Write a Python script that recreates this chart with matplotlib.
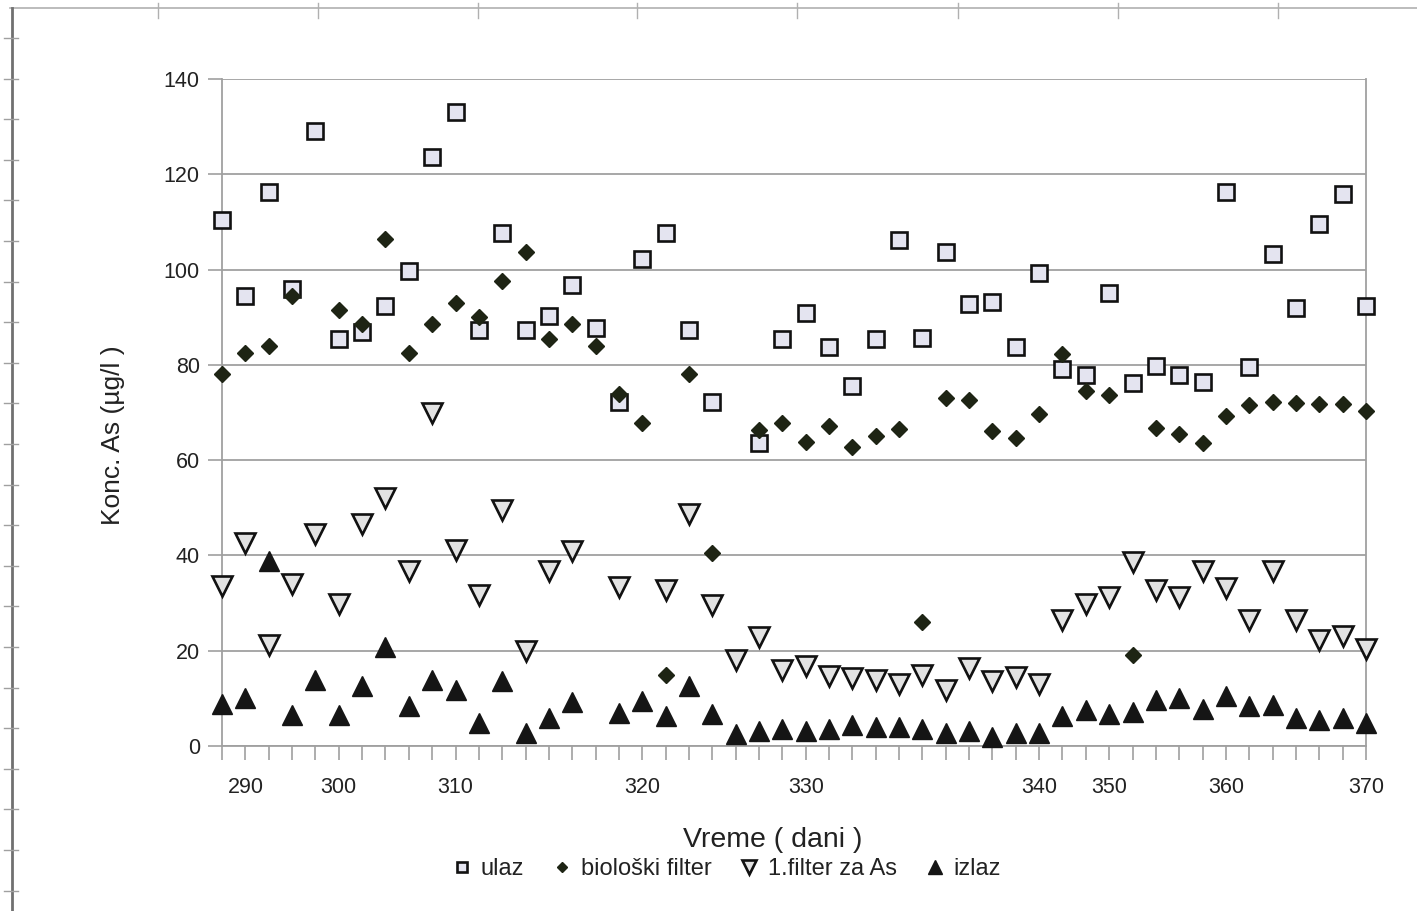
import numpy as np
import matplotlib.pyplot as plt
from matplotlib.lines import Line2D

nan = np.nan

# tick labels of the category axis (index of category, label)
label_pos = [1, 5, 10, 18, 25, 35, 38, 43, 49]
label_txt = ['290', '300', '310', '320', '330', '340', '350', '360', '370']

ulaz = [110.3, 94.4, 116.2, 95.9, 129.0, 85.5, 86.8, 92.3, 99.6, 123.7,
        133.1, 87.3, 107.7, 87.3, 90.3, 96.8, 87.8, 72.1, 102.2, 107.7,
        87.3, 72.1, nan, 63.5, 85.5, 90.9, 83.8, 75.5, 85.5, 106.2,
        85.7, 103.6, 92.7, 93.1, 83.8, 99.2, 79.2, 77.9, 95.1, 76.1,
        79.7, 77.9, 76.3, 116.2, 79.6, 103.2, 91.9, 109.5, 115.9, 92.3]

bio = [78.0, 82.5, 84.0, 94.4, nan, 91.6, 88.5, 106.5, 82.5, 88.5,
       93.0, 90.1, 97.5, 103.6, 85.5, 88.5, 84.0, 73.8, 67.7, 15.0,
       78.1, 40.5, nan, 66.3, 67.9, 63.8, 67.1, 62.8, 65.0, 66.6,
       26.0, 73.1, 72.7, 66.1, 64.7, 69.6, 82.2, 74.5, 73.6, 19.0,
       66.8, 65.4, 63.5, 69.2, 71.5, 72.1, 71.9, 71.7, 71.7, 70.3]

filter1 = [33.5, 42.6, 21.3, 34.0, 44.6, 29.9, 46.7, 52.1, 36.7, 69.8,
           41.2, 31.6, 49.5, 19.9, 36.7, 40.9, nan, 33.4, nan, 32.7,
           48.6, 29.5, 18.1, 22.8, 15.9, 16.7, 14.8, 14.3, 13.9, 13.1,
           15.0, 11.8, 16.4, 13.6, 14.5, 13.1, 26.4, 29.9, 31.3, 38.6,
           32.7, 31.3, 36.8, 33.2, 26.5, 36.8, 26.4, 22.2, 23.0, 20.4]

izlaz = [8.9, 10.1, 38.9, 6.6, 13.9, 6.6, 12.5, 20.8, 8.5, 13.9,
         11.8, 4.8, 13.6, 2.7, 5.9, 9.2, nan, 7.0, 9.4, 6.2,
         12.7, 6.8, 2.6, 3.1, 3.6, 3.1, 3.6, 4.5, 4.0, 4.0,
         3.6, 2.7, 3.1, 1.9, 2.7, 2.7, 6.2, 7.6, 6.8, 7.1,
         9.6, 10.1, 7.8, 10.4, 8.3, 8.7, 5.9, 5.4, 5.9, 4.8]

plt.rcParams['font.family'] = ['Liberation Sans', 'DejaVu Sans']

fig = plt.figure(figsize=(14.17, 9.11), dpi=100)
ax = fig.add_axes([0.1567, 0.1811, 0.8073, 0.7322])

x = np.arange(len(ulaz))
grid_c = '#a0a0a0'

ax.plot(x, ulaz, ls='none', marker='s', ms=11, mfc='#e4e4f0', mec='#111111',
        mew=1.9, clip_on=False, label='ulaz', zorder=3)
ax.plot(x, bio, ls='none', marker='D', ms=8, mfc='#1e2414', mec='#1e2414',
        clip_on=False, label='biološki filter', zorder=4)
ax.plot(x, filter1, ls='none', marker='v', ms=14, mfc='#e2e2e2', mec='#111111',
        mew=1.9, clip_on=False, label='1.filter za As', zorder=3)
ax.plot(x, izlaz, ls='none', marker='^', ms=14, mfc='#151515', mec='#151515',
        clip_on=False, label='izlaz', zorder=3)

ax.set_xlim(0, len(ulaz) - 1)
ax.set_ylim(0, 140)
ax.set_yticks(np.arange(0, 141, 20))
ax.yaxis.grid(True, color=grid_c, lw=1.3)
ax.set_axisbelow(True)

ax.set_xticks(x, minor=True)
ax.set_xticks(label_pos)
ax.set_xticklabels(label_txt)
ax.tick_params(axis='x', which='both', length=10, color=grid_c, width=1.2,
               direction='out', pad=12, labelsize=15.5, labelcolor='#222222')
ax.tick_params(axis='y', length=10, color=grid_c, width=1.2, pad=6,
               labelsize=15.5, labelcolor='#222222')

for s in ['left', 'right', 'bottom']:
    ax.spines[s].set_color(grid_c)
    ax.spines[s].set_linewidth(1.3)
ax.spines['top'].set_visible(False)

ax.set_ylabel('Konc. As (µg/l )', fontsize=19, color='#222222')
ax.yaxis.set_label_coords(-0.085, 0.466)
ax.set_xlabel('Vreme ( dani )', fontsize=20.5, color='#222222')
ax.xaxis.set_label_coords(0.481, -0.121)

fig.legend(loc='center', bbox_to_anchor=(0.512, 0.046), ncol=4, frameon=False,
           fontsize=17, markerscale=0.7, handletextpad=0.3, columnspacing=1.1,
           handlelength=1.0, labelcolor='#222222')

# page ruler lines at top and left edge
W, H = 1417, 911
fig.add_artist(Line2D([10 / W, 1], [1 - 8 / H, 1 - 8 / H], color='#b0b0b0', lw=1.2))
for tx in [158, 318, 478, 637, 797, 958, 1118, 1278]:
    fig.add_artist(Line2D([tx / W, tx / W], [1 - 3 / H, 1 - 18 / H],
                          color='#b0b0b0', lw=1))
fig.add_artist(Line2D([12 / W, 12 / W], [0, 1 - 8 / H], color='#707070', lw=2))
for k in range(22):
    ty = 38 + 40.6 * k
    fig.add_artist(Line2D([4 / W, 18 / W], [1 - ty / H, 1 - ty / H],
                          color='#a0a0a0', lw=1))

fig.savefig('out.png', dpi=100)
